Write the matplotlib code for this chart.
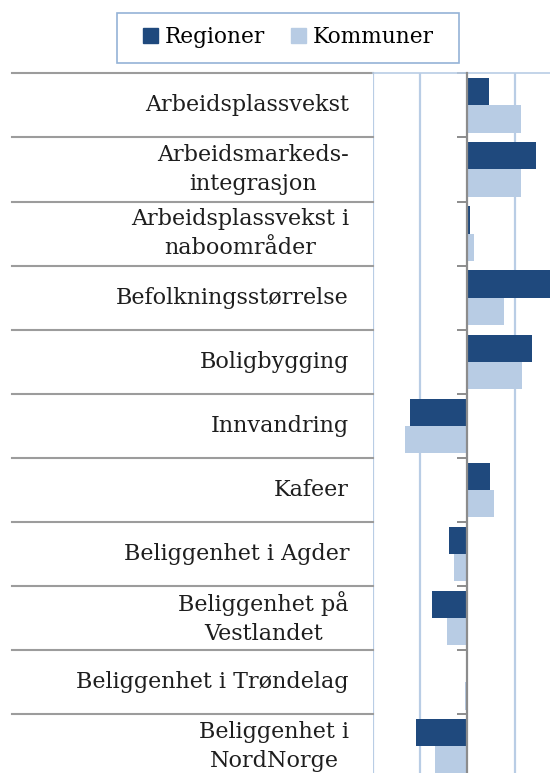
import matplotlib
matplotlib.use('Agg')
import matplotlib.pyplot as plt
from matplotlib.transforms import blended_transform_factory
from matplotlib.patches import Patch, Rectangle

categories = [
    "Arbeidsplassvekst",
    "Arbeidsmarkeds-\nintegrasjon",
    "Arbeidsplassvekst i\nnaboområder",
    "Befolkningsstørrelse",
    "Boligbygging",
    "Innvandring",
    "Kafeer",
    "Beliggenhet i Agder",
    "Beliggenhet på\nVestlandet",
    "Beliggenhet i Trøndelag",
    "Beliggenhet i\nNordNorge",
]
regioner = [0.46, 1.44, 0.05, 1.80, 1.37, -1.22, 0.48, -0.38, -0.75, 0.0, -1.09]
kommuner = [1.12, 1.12, 0.13, 0.77, 1.15, -1.31, 0.55, -0.29, -0.43, -0.05, -0.68]
gridlines = [-2, -1, 1, 2]

dark = '#1f497d'
light = '#b8cce4'
gridc = '#b9cde5'
grayc = '#9c9c9c'
font = 'DejaVu Serif'

fig = plt.figure(figsize=(5.5, 7.73), dpi=100)
ax = fig.add_axes([0.6776, -0.0071, 0.3224, 0.9123])

n = len(categories)
h = 0.425
ypos = [i + 0.5 for i in range(n)]
ax.barh([y - h / 2 for y in ypos], regioner, height=h, color=dark, zorder=3)
ax.barh([y + h / 2 for y in ypos], kommuner, height=h, color=light, zorder=3)

ax.set_xlim(-2, 1.741)
ax.set_ylim(n, 0)
for g in gridlines:
    ax.axvline(g, color=gridc, lw=1.6, zorder=1)

# zero axis with ticks at category boundaries
for s in ['right', 'bottom']:
    ax.spines[s].set_visible(False)
ax.spines['top'].set_color(gridc)
ax.spines['top'].set_linewidth(1.2)
ax.spines['left'].set_position(('data', 0))
ax.spines['left'].set_color('#8c8c8c')
ax.spines['left'].set_linewidth(1.6)
ax.spines['left'].set_zorder(4)
ax.set_yticks(range(n + 1))
ax.set_yticklabels([])
ax.tick_params(axis='y', length=7, width=1.4, color='#8c8c8c', direction='out')
ax.set_xticks([])

# label "table" on the left
tr = blended_transform_factory(fig.transFigure, ax.transData)
for b in range(n + 1):
    ax.plot([12 / 550, 373 / 550], [b, b], color=grayc, lw=1.5,
            transform=tr, clip_on=False, zorder=2)
for y, lab in zip(ypos, categories):
    ax.text(349 / 550, y, lab, transform=tr, ha='right', va='center',
            multialignment='center', fontsize=16, family=font,
            color='#1e1e1e', linespacing=1.4, clip_on=False)

handles = [Patch(facecolor=dark, edgecolor=dark), Patch(facecolor=light, edgecolor=light)]
leg = fig.legend(handles, ['Regioner', 'Kommuner'], loc='center',
                 bbox_to_anchor=(0.524, 0.952), ncol=2, frameon=False,
                 prop={'family': font, 'size': 15.6},
                 handlelength=0.7, handleheight=0.7, handletextpad=0.3,
                 columnspacing=1.2, borderaxespad=0)
# legend box
fig.patches.append(Rectangle((117 / 550, 1 - 63 / 773), 342 / 550, 50 / 773,
                             transform=fig.transFigure, fill=False,
                             edgecolor='#95b3d7', lw=1.2))

plt.savefig('out.png', dpi=100)
